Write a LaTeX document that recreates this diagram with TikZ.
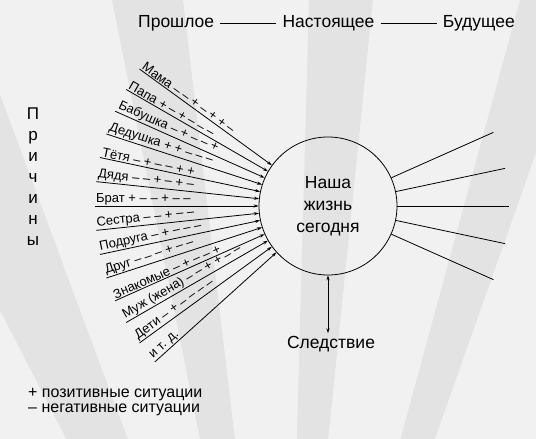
\documentclass[tikz,border=0pt]{standalone}
\usepackage{fontspec}
\setmainfont{Liberation Sans}
\usetikzlibrary{arrows.meta}
\definecolor{bglight}{HTML}{F1F1F1}
\definecolor{bgdark}{HTML}{E3E3E3}
\begin{document}
\begin{tikzpicture}[x=1pt,y=1pt,
  lbl/.style={font=\fontsize{13}{14}\selectfont, anchor=south west, inner sep=1pt},
  cause/.style={line width=0.8pt, -{Stealth[length=5pt,width=3.2pt]}},
  eff/.style={line width=0.8pt},
  big/.style={font=\fontsize{17.5}{22}\selectfont},
  time/.style={big, inner sep=0pt, anchor=base},
  tline/.style={line width=0.7pt},
  legend/.style={font=\fontsize{16}{16}\selectfont, anchor=base west, inner sep=0pt},
  ray/.style={fill=bgdark, draw=none}]
\useasboundingbox (0,0) rectangle (536,439);
\fill[bglight] (0,0) rectangle (536,439);
\begin{scope}
\clip (0,0) rectangle (536,439);
\coordinate (o) at (285,-424);
\fill[ray] (o) -- (-160,439) -- (-35,439) -- cycle;
\fill[ray] (o) -- (112,439) -- (183,439) -- cycle;
\fill[ray] (o) -- (309,439) -- (373,439) -- cycle;
\fill[ray] (o) -- (520,439) -- (590,439) -- cycle;
\end{scope}
% top time axis
\node[time, anchor=base west] (past) at (138,411) {Прошлое};
\node[time] (present) at (328.5,411) {Настоящее};
\node[time, anchor=base east] (future) at (515,411) {Будущее};
\draw[tline] ([xshift=6pt,yshift=4.8pt]past.base east) -- ([xshift=-6pt,yshift=4.8pt]present.base west);
\draw[tline] ([xshift=6pt,yshift=4.8pt]present.base east) -- ([xshift=-6pt,yshift=4.8pt]future.base west);
% centre
\coordinate (c) at (328,233);
\node[circle, draw, line width=0.8pt, minimum size=138pt, inner sep=0pt, align=center, big] (life) at (c) {Наша\\жизнь\\сегодня};
% causes
\node[align=center, font=\fontsize{17}{21}\selectfont] (causes) at (33,262.5) {П\\р\\и\\ч\\и\\н\\ы};
\foreach \i/\t in {0/{Мама – – + – + + –},1/{Папа + – + – – –},2/{Бабушка – + – – +},3/{Дедушка + + – – –},4/{Тётя – + – – + +},5/{Дядя – – + – + –},6/{Брат + – – + – –},7/{Сестра – – + – –},8/{Подруга – + – – –},9/{Друг – – – + – –},10/{Знакомые – + – – +},11/{Муж (жена) – – + + – –},12/{Дети – + – – – –},13/{и т. д.}}{
  \pgfmathsetmacro\ang{144+6*\i}
  \coordinate (s\i) at ([shift={(c)}]\ang:233);
  \node[lbl, rotate=\ang-180] (t\i) at (s\i) {\t};
  \draw[cause] (s\i) -- (life);
}
% effects
\foreach \j/\a in {0/24,1/12,2/0,3/-12,4/-24}{
  \coordinate (r\j) at ([shift={(c)}]\a:181);
  \draw[eff] (life) -- (r\j);
}
% consequence
\node[big, anchor=base] (cons) at (331,90) {Следствие};
\draw[line width=0.8pt, {Stealth[length=5pt,width=3.2pt]}-{Stealth[length=5pt,width=3.2pt]}] (life.south) -- (life.south |- cons.north);
% legend
\node[legend] (leg1) at (28,41) {+ позитивные ситуации};
\node[legend] (leg2) at (28,26) {– негативные ситуации};
\end{tikzpicture}
\end{document}
